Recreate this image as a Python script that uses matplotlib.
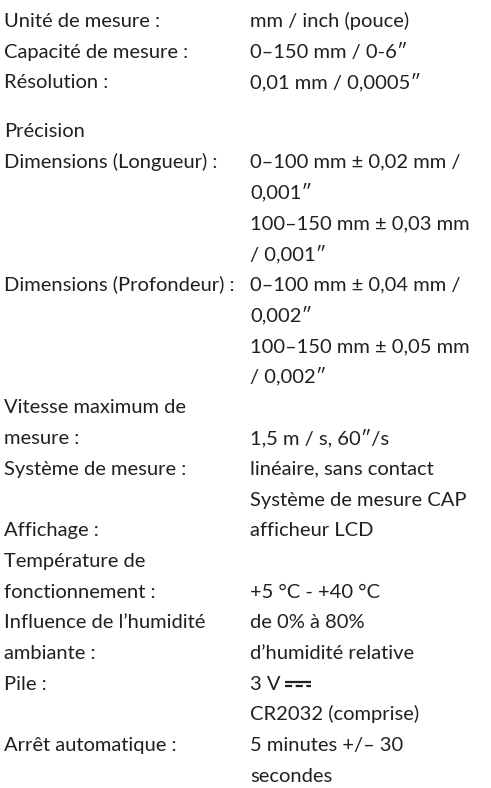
import matplotlib.pyplot as plt

plt.rcParams['font.family'] = ['Lato', 'DejaVu Sans']

# one entry per printed line: (left column, right column)
left_lines = [
    "Unité de mesure :", "Capacité de mesure :", "Résolution :",
    "Précision", "Dimensions (Longueur) :", "", "", "",
    "Dimensions (Profondeur) :", "", "", "",
    "Vitesse maximum de", "mesure :", "Système de mesure :", "",
    "Affichage :", "Température de", "fonctionnement :",
    "Influence de l’humidité", "ambiante :", "Pile :", "",
    "Arrêt automatique :", "",
]
right_lines = [
    "mm / inch (pouce)", "0–150 mm / 0-6″", "0,01 mm / 0,0005″",
    "", "0–100 mm ± 0,02 mm /", "0,001″", "100–150 mm ± 0,03 mm", "/ 0,001″",
    "0–100 mm ± 0,04 mm /", "0,002″", "100–150 mm ± 0,05 mm", "/ 0,002″",
    "", "1,5 m / s, 60″/s", "linéaire, sans contact", "Système de mesure CAP",
    "afficheur LCD", "", "+5 °C - +40 °C",
    "de 0% à 80%", "d’humidité relative", "3 V", "CR2032 (comprise)",
    "5 minutes +/– 30", "secondes",
]
dc_line = 21  # the "3 V" line gets the DC symbol (no installed font has U+2393)

W, H = 491, 788
fig = plt.figure(figsize=(W / 100, H / 100), dpi=100)
ax = fig.add_axes([0, 0, 1, 1])
ax.set_xlim(0, W)
ax.set_ylim(H, 0)
ax.axis('off')

first = 27
step = 30.7
gap = 18
col_left, col_right = 4, 250
color = '#231f20'
fs = 14.5

renderer = fig.canvas.get_renderer()
for i, (l, r) in enumerate(zip(left_lines, right_lines)):
    y = first + i * step + (gap if i >= 3 else 0)
    if l:
        ax.text(col_left, y, l, fontsize=fs, color=color, va='baseline', ha='left')
    if r:
        t = ax.text(col_right, y, r, fontsize=fs, color=color, va='baseline', ha='left')
        if i == dc_line:
            bb = t.get_window_extent(renderer).transformed(ax.transData.inverted())
            x0 = bb.x1 + 5
            ax.plot([x0, x0 + 26], [y - 8, y - 8], color=color, lw=1.6,
                    solid_capstyle='butt')
            ax.plot([x0, x0 + 26], [y - 4, y - 4], color=color, lw=1.6,
                    linestyle=(0, (3.2, 1.6)), dash_capstyle='butt')

fig.savefig('out.png', dpi=100, facecolor='white')
